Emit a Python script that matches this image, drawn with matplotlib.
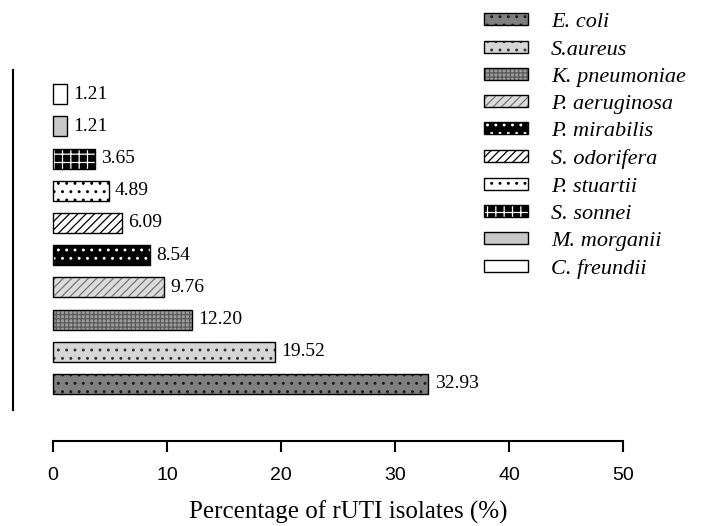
import matplotlib.pyplot as plt
from matplotlib.patches import Patch
from matplotlib.legend_handler import HandlerTuple

# rUTI isolates, bottom bar first
species = ['E. coli', 'S.aureus', 'K. pneumoniae', 'P. aeruginosa', 'P. mirabilis',
           'S. odorifera', 'P. stuartii', 'S. sonnei', 'M. morganii', 'C. freundii']
percent = [32.93, 19.52, 12.20, 9.76, 8.54, 6.09, 4.89, 3.65, 1.21, 1.21]
value_text = ['32.93', '19.52', '12.20', '9.76', '8.54', '6.09', '4.89', '3.65', '1.21', '1.21']

# fill colour, hatch, hatch colour for each species
styles = [
    ('#7f7f7f', '..', '#1a1a1a'),
    ('#d6d6d6', '..', '#333333'),
    ('#9c9c9c', '++++', '#5a5a5a'),
    ('#dcdcdc', '////', '#777777'),
    ('#000000', '..', '#ffffff'),
    ('#ffffff', '////', '#000000'),
    ('#ffffff', '..', '#000000'),
    ('#000000', '++', '#ffffff'),
    ('#c8c8c8', '', '#000000'),
    ('#ffffff', '', '#000000'),
]

plt.rcParams['hatch.linewidth'] = 0.9
serif = 'Liberation Serif'

fig = plt.figure(figsize=(7.17, 5.26), dpi=100)
ax = fig.add_axes([0.0181, 0.1616, 0.8508, 0.7243])

ypos = list(range(len(species)))
for y, v, (fc, h, hc) in zip(ypos, percent, styles):
    ax.barh(y, v, height=0.62, color=fc, hatch=h, edgecolor=hc, linewidth=0)
    ax.barh(y, v, height=0.62, fill=False, edgecolor='black', linewidth=1)

for y, v, t in zip(ypos, percent, value_text):
    ax.annotate(t, (v, y), xytext=(4.5, 0), textcoords='offset points',
                va='center', ha='left', fontsize=14, family=serif)

ax.set_xlim(-3.5, 50)
ax.set_ylim(-1.77, 10.06)
ax.set_xticks([0, 10, 20, 30, 40, 50])
ax.set_yticks([])
for s in ['top', 'right']:
    ax.spines[s].set_visible(False)
ax.spines['bottom'].set_bounds(0, 50)
ax.spines['left'].set_bounds(-0.8, 9.75)
ax.spines['left'].set_linewidth(1.5)
ax.spines['bottom'].set_linewidth(1.5)
ax.tick_params(axis='x', direction='out', length=8, width=1.5, pad=11,
               labelsize=14)
for lab in ax.get_xticklabels():
    lab.set_family('Liberation Sans')
ax.set_xlabel('Percentage of rUTI isolates (%)', family=serif, fontsize=18)
ax.xaxis.label.set_va('center')
ax.xaxis.set_label_coords(0.55, -0.186)

handles = [(Patch(facecolor=fc, hatch=h, edgecolor=hc, linewidth=0),
            Patch(fill=False, edgecolor='black', linewidth=1))
           for fc, h, hc in styles]
leg = fig.legend(handles, species, loc='upper left', bbox_to_anchor=(0.657, 1.0),
                 frameon=False, handler_map={tuple: HandlerTuple(ndivide=1)},
                 prop={'family': serif, 'style': 'italic', 'size': 16},
                 handlelength=1.95, handleheight=0.45, handletextpad=1.05,
                 labelspacing=0.37, borderaxespad=0.2)

fig.savefig('out.png', dpi=100)
